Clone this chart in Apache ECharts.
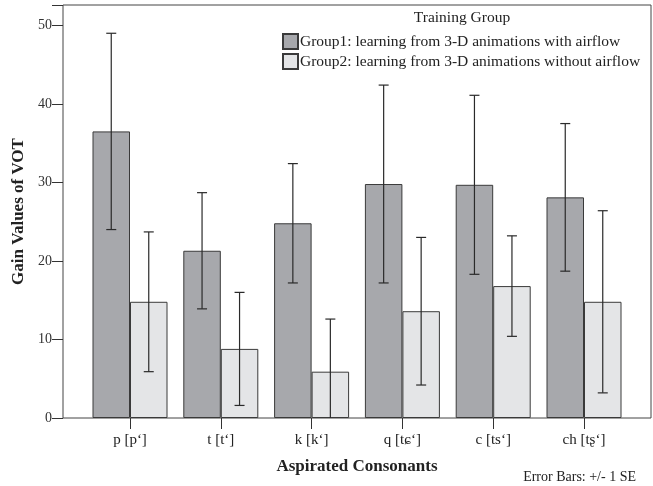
<!DOCTYPE html>
<html><head><meta charset="utf-8">
<script src="https://cdn.jsdelivr.net/npm/echarts@6/dist/echarts.min.js"></script>
<style>html,body{margin:0;padding:0;background:#fff}#c{width:653px;height:486px}</style>
</head><body><div id="c"></div>
<script>
const categories = ["p [pʻ]", "t [tʻ]", "k [kʻ]", "q [tɕʻ]", "c [tsʻ]", "ch [tʂʻ]"];
const seriesNames = ["Group1: learning from 3-D animations with airflow", "Group2: learning from 3-D animations without airflow"];
const group1Mean = [36.5, 21.3, 24.8, 29.8, 29.7, 28.1];
const group1SE   = [12.5, 7.4, 7.6, 12.6, 11.4, 9.4];
const group2Mean = [14.8, 8.8, 5.9, 13.6, 16.8, 14.8];
const group2SE   = [8.9, 7.2, 6.7, 9.4, 6.4, 11.6];
const yTicks = [0, 10, 20, 30, 40, 50];

const FONT = "'Liberation Serif', 'DejaVu Serif', serif";
const BAR_W = 37.5;
const YMAX = 52.6;

function errData(mean, se) {
  return mean.map((m, i) => [i, m - se[i], m + se[i]]);
}
function errRender(offset) {
  return function (params, api) {
    const i = api.value(0);
    const lo = api.coord([i, api.value(1)]);
    const hi = api.coord([i, api.value(2)]);
    const x = lo[0] + offset;
    const cap = 5;
    const st = { stroke: '#2a2a2a', lineWidth: 1.2 };
    return {
      type: 'group',
      children: [
        { type: 'line', shape: { x1: x, y1: lo[1], x2: x, y2: hi[1] }, style: st },
        { type: 'line', shape: { x1: x - cap, y1: hi[1], x2: x + cap, y2: hi[1] }, style: st },
        { type: 'line', shape: { x1: x - cap, y1: lo[1], x2: x + cap, y2: lo[1] }, style: st }
      ]
    };
  };
}

const chart = echarts.init(document.getElementById('c'), null, { renderer: 'canvas' });
chart.setOption({
  animation: false,
  backgroundColor: '#fff',
  textStyle: { fontFamily: FONT },
  title: [
    { text: 'Training Group', left: 462, top: 10, textAlign: 'center', padding: 0,
      textStyle: { fontFamily: FONT, fontWeight: 'normal', fontSize: 15.5, color: '#222' } },
    { text: 'Error Bars: +/- 1 SE', right: 17, top: 470, padding: 0,
      textStyle: { fontFamily: FONT, fontWeight: 'normal', fontSize: 14, color: '#222' } }
  ],
  legend: {
    orient: 'vertical', left: 282, top: 33, itemWidth: 15, itemHeight: 15, itemGap: 3,
    padding: 0, icon: 'rect',
    textStyle: { fontFamily: FONT, fontSize: 15.5, color: '#222', padding: [0, 0, 0, -3] },
    data: seriesNames
  },
  grid: [
    { left: 84.6, right: 23.6, top: 5, bottom: 68 },
    { left: 63, right: 2, top: 5, bottom: 68, show: true, borderColor: '#444', borderWidth: 1, backgroundColor: 'transparent' }
  ],
  xAxis: [
    { type: 'category', gridIndex: 0, data: categories, boundaryGap: true,
      axisLine: { show: false },
      axisTick: { show: true, alignWithLabel: true, length: 11, lineStyle: { color: '#333' } },
      axisLabel: { fontFamily: FONT, fontSize: 15, color: '#222', margin: 15 },
      name: 'Aspirated Consonants', nameLocation: 'middle', nameGap: 40,
      nameTextStyle: { fontFamily: FONT, fontSize: 17, fontWeight: 'bold', color: '#222' } },
    { type: 'value', gridIndex: 1, min: 0, max: 1, show: false }
  ],
  yAxis: [
    { type: 'value', gridIndex: 0, min: 0, max: YMAX, show: false },
    { type: 'value', gridIndex: 1, min: 0, max: YMAX, interval: 10,
      axisLine: { show: false }, splitLine: { show: false },
      axisTick: { show: true, length: 11, lineStyle: { color: '#333' } },
      axisLabel: { fontFamily: FONT, fontSize: 14, color: '#333', margin: 11,
        formatter: v => (yTicks.indexOf(v) >= 0 ? String(v) : '') },
      name: 'Gain Values of VOT', nameLocation: 'middle', nameGap: 32, nameRotate: 90,
      nameTextStyle: { fontFamily: FONT, fontSize: 17, fontWeight: 'bold', color: '#222' } }
  ],
  series: [
    { name: seriesNames[0], type: 'bar', xAxisIndex: 0, yAxisIndex: 0, data: group1Mean,
      barWidth: BAR_W, barGap: '0%',
      itemStyle: { color: '#a7a8ac', borderColor: '#3a3a3a', borderWidth: 1 } },
    { name: seriesNames[1], type: 'bar', xAxisIndex: 0, yAxisIndex: 0, data: group2Mean,
      barWidth: BAR_W, barGap: '0%',
      itemStyle: { color: '#e4e5e7', borderColor: '#3a3a3a', borderWidth: 1 } },
    { type: 'custom', xAxisIndex: 0, yAxisIndex: 0, clip: true, z: 5,
      renderItem: errRender(-BAR_W / 2), data: errData(group1Mean, group1SE), silent: true },
    { type: 'custom', xAxisIndex: 0, yAxisIndex: 0, clip: true, z: 5,
      renderItem: errRender(BAR_W / 2), data: errData(group2Mean, group2SE), silent: true },
    { type: 'line', xAxisIndex: 1, yAxisIndex: 1, data: [], silent: true }
  ]
});
</script></body></html>
